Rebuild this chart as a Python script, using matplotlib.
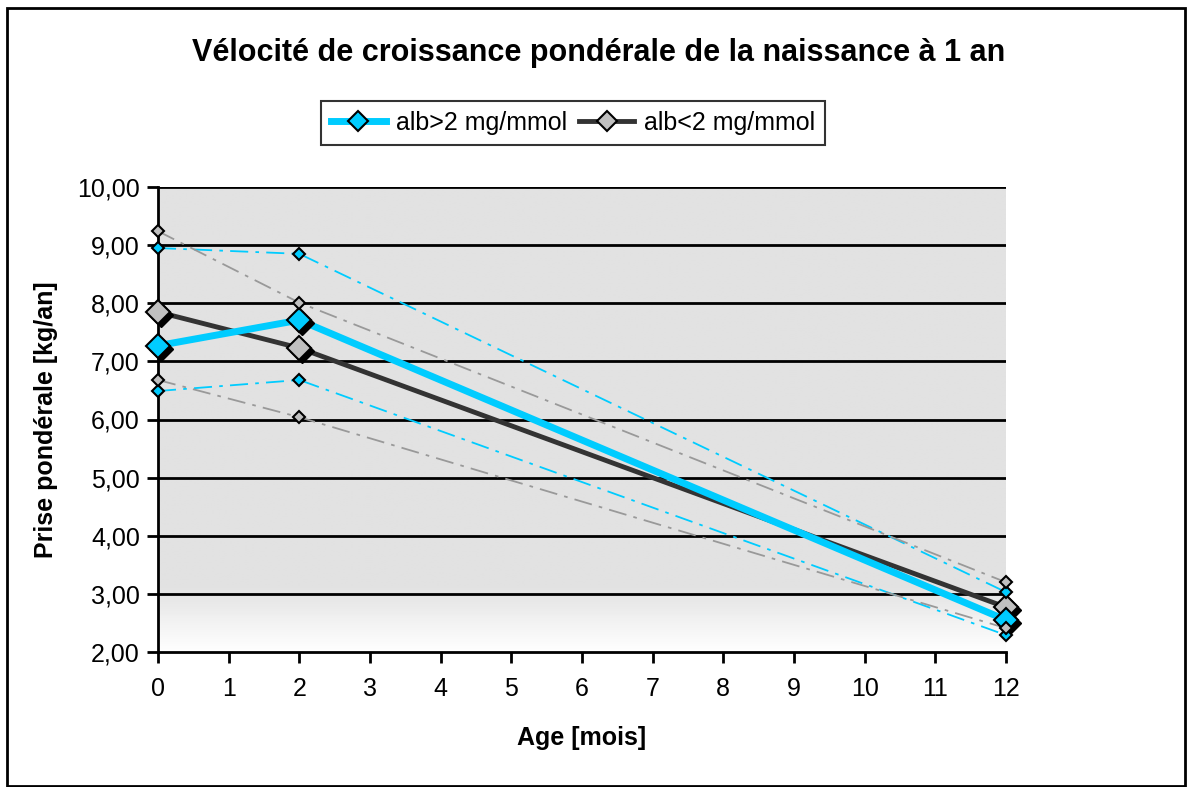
import numpy as np
import matplotlib
matplotlib.use("Agg")
import matplotlib.pyplot as plt
import matplotlib.transforms as mtransforms
from matplotlib.patches import Rectangle
from matplotlib.lines import Line2D

plt.rcParams["font.family"] = ["Liberation Sans", "DejaVu Sans"]

# data
age = [0, 2, 12]
alb_hi = [7.27, 7.71, 2.55]
alb_hi_upper = [8.95, 8.85, 3.03]
alb_hi_lower = [6.49, 6.68, 2.29]
alb_lo = [7.85, 7.23, 2.77]
alb_lo_upper = [9.24, 8.01, 3.20]
alb_lo_lower = [6.68, 6.04, 2.41]
x_ticks = list(range(0, 13))
y_ticks = [2, 3, 4, 5, 6, 7, 8, 9, 10]

BLUE = "#00ccff"
DARK = "#333333"
GREY = "#999999"

fig = plt.figure(figsize=(11.90, 7.87), dpi=100)
ax = fig.add_axes([158 / 1190, 1 - 652 / 787, (1006 - 158) / 1190, (652 - 187) / 787])

# outer border
fig.patches.append(Rectangle((7 / 1190, 1 / 787), 1178 / 1190, 778 / 787,
                             transform=fig.transFigure, fill=False,
                             edgecolor="black", linewidth=2))

ax.set_xlim(0, 12)
ax.set_ylim(2, 10)

# background: grey fading to white at the bottom
yy = np.linspace(10, 2, 200)
grad = np.clip((yy - 2) / 1.1, 0, 1)[:, None] * np.ones((1, 2))
cols = 0.886 + (1 - 0.886) * (1 - grad)
ax.imshow(cols, extent=[0, 12, 2, 10], aspect="auto", cmap="gray",
          vmin=0, vmax=1, zorder=0, interpolation="bilinear")

for y in y_ticks[1:]:
    ax.axhline(y, color="black", linewidth=2, zorder=1)

# thin dash-dot envelopes
dd = (0, (10, 4, 2, 4))
ax.plot(age, alb_hi_upper, color=BLUE, lw=1.3, ls=dd, zorder=2)
ax.plot(age, alb_hi_lower, color=BLUE, lw=1.3, ls=dd, zorder=2)
ax.plot(age, alb_lo_upper, color=GREY, lw=1.3, ls=dd, zorder=2)
ax.plot(age, alb_lo_lower, color=GREY, lw=1.3, ls=dd, zorder=2)
for ys, c in [(alb_hi_upper, BLUE), (alb_hi_lower, BLUE),
              (alb_lo_upper, "#c0c0c0"), (alb_lo_lower, "#c0c0c0")]:
    ax.plot(age, ys, ls="none", marker="D", ms=6.5, mfc=c, mec="black",
            mew=1.5, zorder=6, clip_on=False)

# main lines
ax.plot(age, alb_lo, color=DARK, lw=3.5, zorder=3)
ax.plot(age, alb_hi, color=BLUE, lw=5, zorder=3)

# shadows for big markers
shadow = mtransforms.offset_copy(ax.transData, fig=fig, x=3, y=-3, units="dots")
for ys in (alb_lo, alb_hi):
    ax.plot(age, ys, ls="none", marker="D", ms=12, mfc="black", mec="black",
            transform=shadow, zorder=4, clip_on=False)
ax.plot(age, alb_lo, ls="none", marker="D", ms=12, mfc="#c0c0c0", mec="black",
        mew=1.5, zorder=5, clip_on=False)
ax.plot(age, alb_hi, ls="none", marker="D", ms=12, mfc=BLUE, mec="black",
        mew=1.5, zorder=5, clip_on=False)

for s in ("top", "right"):
    ax.spines[s].set_visible(False)
for s in ("left", "bottom"):
    ax.spines[s].set_linewidth(2)
ax.set_xticks(x_ticks)
ax.set_yticks(y_ticks)
ax.set_yticklabels([f"{v:.2f}".replace(".", ",") for v in y_ticks])
ax.tick_params(direction="out", length=8, width=2, labelsize=18, pad=5)
ax.tick_params(axis="x", pad=10)

ax.set_xlabel("Age [mois]", fontsize=18, fontweight="bold", labelpad=18)
ax.set_ylabel("Prise pondérale [kg/an]", fontsize=18, fontweight="bold", labelpad=14)
fig.text(0.503, 0.933, "Vélocité de croissance pondérale de la naissance à 1 an",
         ha="center", va="center", fontsize=22, fontweight="bold")

handles = [
    Line2D([], [], color=BLUE, lw=5, marker="D", ms=10, mfc=BLUE, mec="black", mew=1.5),
    Line2D([], [], color=DARK, lw=3.5, marker="D", ms=10, mfc="#c0c0c0", mec="black", mew=1.5),
]
leg = fig.legend(handles, ["alb>2 mg/mmol", "alb<2 mg/mmol"], loc="center",
                 bbox_to_anchor=(573 / 1190, 1 - 123 / 787), ncol=2, fontsize=18,
                 frameon=True, fancybox=False, handlelength=2.2, columnspacing=0.5,
                 handletextpad=0.4, borderpad=0.4, borderaxespad=0)
leg.get_frame().set_edgecolor("black")
leg.get_frame().set_linewidth(1.5)

fig.savefig("out.png", dpi=100)
